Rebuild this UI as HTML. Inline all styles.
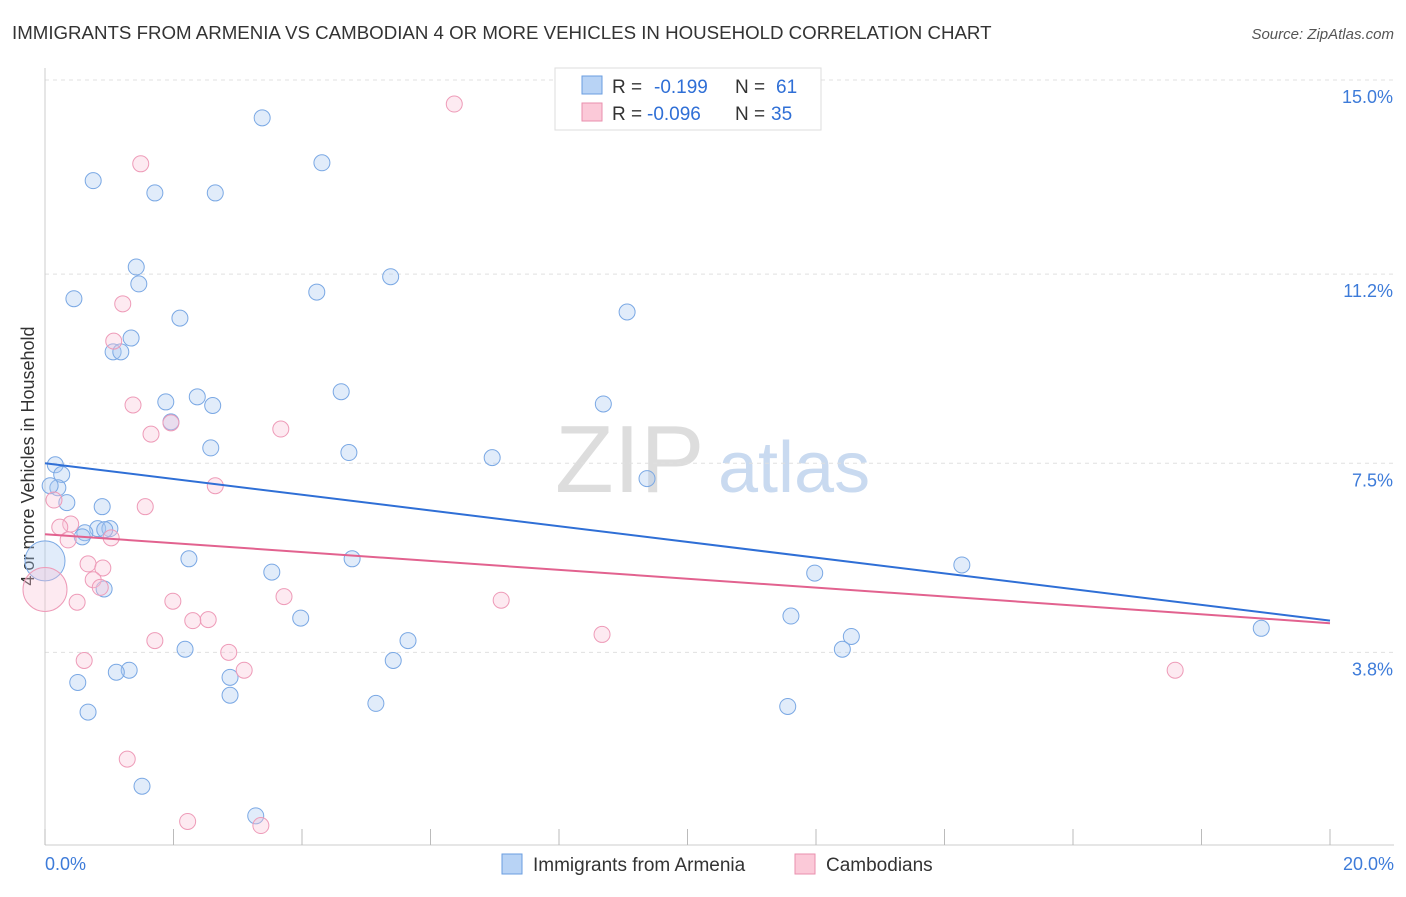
<!DOCTYPE html>
<html><head><meta charset="utf-8"><style>
body{margin:0;background:#fff;font-family:"Liberation Sans",sans-serif}
svg text{font-family:"Liberation Sans",sans-serif}
</style></head><body>
<svg id="c" width="1406" height="892">
<text x="12" y="39" font-size="18.7" fill="#333">IMMIGRANTS FROM ARMENIA VS CAMBODIAN 4 OR MORE VEHICLES IN HOUSEHOLD CORRELATION CHART</text>
<text x="1394" y="39" font-size="15" fill="#555" text-anchor="end" font-style="italic">Source: ZipAtlas.com</text>
<text transform="translate(34,456) rotate(-90)" font-size="18" fill="#333" text-anchor="middle">4 or more Vehicles in Household</text>
<text x="555" y="492" font-size="96" fill="#ddd" font-family="Liberation Serif">ZIP</text>
<text x="718" y="492" font-size="72" fill="#c9daf0">atlas</text>
<g id="grid"></g><g id="pts"></g><g id="lines"></g>
<g>
<rect x="555" y="68" width="266" height="62" fill="#fff" stroke="#ddd"/>
<rect x="582" y="76" width="20" height="18" fill="#b8d3f5" stroke="#6a9ee0"/>
<rect x="582" y="103" width="20" height="18" fill="#fbc9d8" stroke="#ea8fae"/>
<text x="612" y="93" font-size="19" fill="#333">R =</text><text x="654" y="93" font-size="19" fill="#2f6fd6">-0.199</text>
<text x="735" y="93" font-size="19" fill="#333">N =</text><text x="776" y="93" font-size="19" fill="#2f6fd6">61</text>
<text x="612" y="120" font-size="19" fill="#333">R =</text><text x="647" y="120" font-size="19" fill="#2f6fd6">-0.096</text>
<text x="735" y="120" font-size="19" fill="#333">N =</text><text x="771" y="120" font-size="19" fill="#2f6fd6">35</text>
</g>
<g>
<rect x="502" y="854" width="20" height="20" fill="#b8d3f5" stroke="#6a9ee0"/>
<text x="533" y="871" font-size="19" fill="#333">Immigrants from Armenia</text>
<rect x="795" y="854" width="20" height="20" fill="#fbc9d8" stroke="#ea8fae"/>
<text x="826" y="871" font-size="19" fill="#333">Cambodians</text>
</g>
</svg>
<script>
const blueX=[3.38,4.31,0.75,1.71,2.65,1.42,1.46,5.38,0.45,4.23,2.1,9.06,1.34,1.06,1.18,4.61,1.88,2.37,2.61,8.69,1.96,2.58,4.73,6.96,9.37,0.16,0.26,0.2,0.34,0.89,0.82,1.01,0.62,0.58,2.24,4.78,14.27,0.0,3.53,11.98,0.92,3.98,11.61,5.65,12.55,2.18,12.41,18.93,5.42,1.31,1.11,0.51,2.88,2.88,5.15,0.67,11.56,1.51,3.28,0.08,0.93];
const blueY=[14.26,13.38,13.03,12.79,12.79,11.34,11.01,11.15,10.72,10.85,10.34,10.46,9.95,9.68,9.68,8.9,8.7,8.8,8.63,8.66,8.31,7.8,7.71,7.61,7.2,7.47,7.28,7.02,6.73,6.65,6.22,6.22,6.14,6.06,5.63,5.63,5.51,5.59,5.37,5.35,5.04,4.47,4.51,4.03,4.11,3.86,3.86,4.27,3.64,3.45,3.41,3.21,3.31,2.96,2.8,2.63,2.74,1.18,0.6,7.06,6.2];
const pinkX=[6.37,1.49,1.21,1.07,1.37,1.96,1.65,3.67,2.65,1.56,0.14,0.4,0.23,0.36,1.03,0.67,0.9,0.75,0.86,0.0,0.5,1.99,3.72,7.1,2.54,2.3,1.71,8.67,2.86,0.61,3.1,17.59,1.28,2.22,3.36];
const pinkY=[14.53,13.36,10.62,9.89,8.64,8.29,8.07,8.17,7.06,6.65,6.78,6.31,6.25,6.0,6.04,5.53,5.45,5.22,5.07,5.03,4.78,4.8,4.89,4.82,4.44,4.42,4.03,4.15,3.8,3.64,3.45,3.45,1.71,0.49,0.41];
const blueSize=[8,8,8,8,8,8,8,8,8,8,8,8,8,8,8,8,8,8,8,8,8,8,8,8,8,8,8,8,8,8,8,8,8,8,8,8,8,20,8,8,8,8,8,8,8,8,8,8,8,8,8,8,8,8,8,8,8,8,8,8,8];
const xTicks=[0,2,4,6,8,10,12,14,16,18,20];
const yTicks=[15.0,11.2,7.5,3.8];
const yTickLabels=["15.0%","11.2%","7.5%","3.8%"];
const blueTrend=[7.5,4.42];
const pinkTrend=[6.11,4.37];
const X=v=>45+v/20*1285, Y=v=>80+(15-v)*51.1;
const NS="http://www.w3.org/2000/svg";
function mk(tag,at,parent){const e=document.createElementNS(NS,tag);for(const k in at)e.setAttribute(k,at[k]);document.getElementById(parent).appendChild(e);return e;}
yTicks.forEach((t,i)=>{
 const l=mk('line',{x1:45,x2:1394,y1:Y(t),y2:Y(t),stroke:'#e0e0e0','stroke-dasharray':'4,4'},'grid');
 
 
 const tx=mk('text',{x:1393,y:Y(t)+23,'font-size':18,fill:'#3d7bd9','text-anchor':'end'},'grid');tx.textContent=yTickLabels[i];
 
 
});
const ax=mk('line',{x1:45,x2:1394,y1:845,y2:845,stroke:'#ccc'},'grid');


const ay=mk('line',{x1:45,x2:45,y1:68,y2:845,stroke:'#ccc'},'grid');


xTicks.forEach(t=>{const l=mk('line',{x1:X(t),x2:X(t),y1:829,y2:845,stroke:'#bbb'},'grid');
 
 });
const x0=mk('text',{x:45,y:870,'font-size':18,fill:'#3d7bd9'},'grid');x0.textContent='0.0%';


const x1=mk('text',{x:1394,y:870,'font-size':18,fill:'#3d7bd9','text-anchor':'end'},'grid');x1.textContent='20.0%';


blueX.forEach((v,i)=>{const c=mk('circle',{cx:X(v),cy:Y(blueY[i]),r:blueSize[i],fill:'rgba(170,200,240,0.35)',stroke:'#7aa8e4','stroke-width':1},'pts');
 
 });
pinkX.forEach((v,i)=>{const c=mk('circle',{cx:X(v),cy:Y(pinkY[i]),r:i==19?22:8,fill:'rgba(250,195,215,0.35)',stroke:'#ee9bb8','stroke-width':1},'pts');
 
 });
const bl=mk('line',{x1:X(0),y1:Y(blueTrend[0]),x2:X(20),y2:Y(blueTrend[1]),stroke:'#2f6fd6','stroke-width':2},'lines');


const pl=mk('line',{x1:X(0),y1:Y(pinkTrend[0]),x2:X(20),y2:Y(pinkTrend[1]),stroke:'#e2628f','stroke-width':2},'lines');


</script>
</body></html>
